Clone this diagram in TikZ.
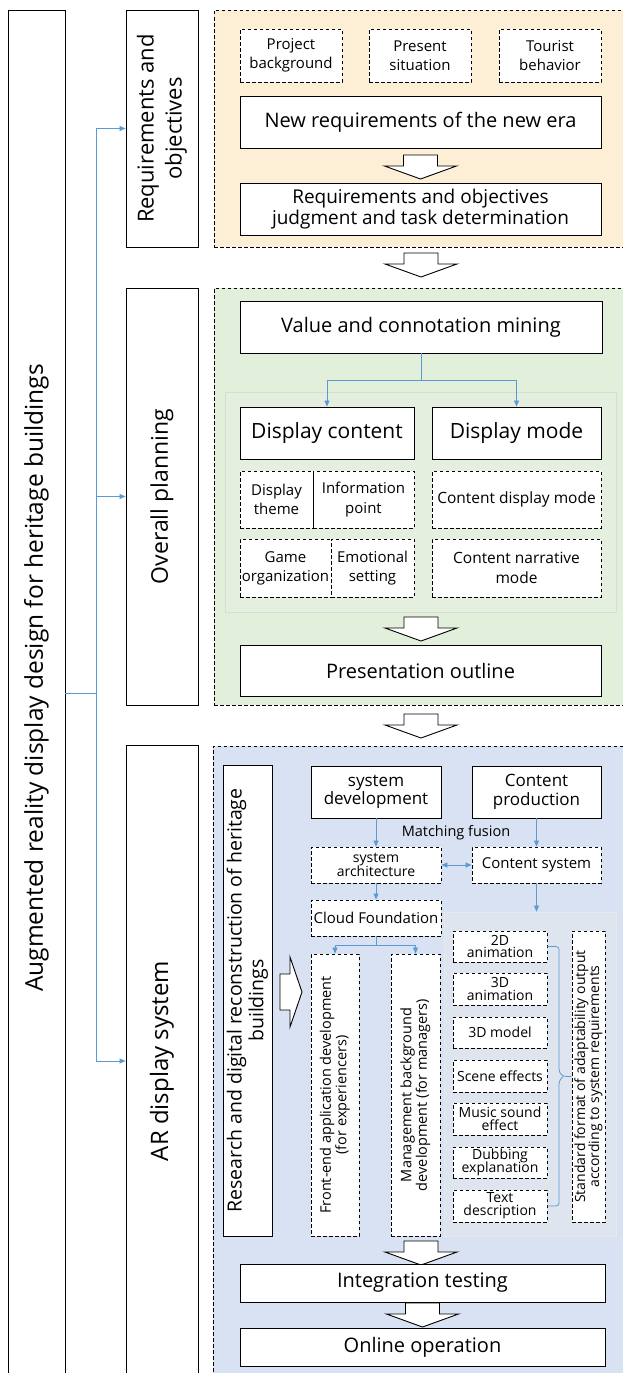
\documentclass[tikz,border=0pt]{standalone}
\usepackage{fontspec}
\setmainfont{Open Sans}
\usepackage{graphicx}
\usetikzlibrary{arrows.meta}
\definecolor{orangebg}{HTML}{FCEFD6}
\definecolor{greenbg}{HTML}{E2EFDA}
\definecolor{greenpanel}{HTML}{E5EFDF}
\definecolor{greenpanelline}{HTML}{D3E0CB}
\definecolor{bluebg}{HTML}{D9E2F2}
\definecolor{graypanel}{HTML}{DFE5EE}
\definecolor{graypanelline}{HTML}{E6E9ED}
\definecolor{conn}{HTML}{5B9BD5}
\newcommand{\fs}[1]{\fontsize{#1}{1.28\dimexpr #1pt\relax}\selectfont}
\newcommand{\vtext}[1]{\rotatebox{90}{\begin{tabular}{@{}c@{}}#1\end{tabular}}}
\tikzset{
  x=1pt, y=-1pt,
  sbox/.style={draw=black, line width=0.9pt, fill=white, inner sep=0pt, align=center},
  dbox/.style={draw=black, line width=0.9pt, dash pattern=on 3.5pt off 2.5pt, fill=white, inner sep=0pt, align=center},
  region/.style={draw=black, line width=0.8pt, dash pattern=on 3.5pt off 2.5pt},
  link/.style={draw=conn, line width=0.8pt},
  linkarrow/.style={draw=conn, line width=0.8pt, -{Triangle[length=6pt,width=5pt]}},
  hollowdown/.pic={\draw[fill=white, line width=0.9pt] (-17,0) -- (17,0) -- (17,11) -- (36,11) -- (0,24) -- (-36,11) -- (-17,11) -- cycle;},
  hollowright/.pic={\draw[fill=white, line width=0.9pt] (0,-18) -- (10,-18) -- (10,-35) -- (22,0) -- (10,35) -- (10,18) -- (0,18) -- cycle;},
}
\begin{document}
\begin{tikzpicture}
\useasboundingbox (0,0) rectangle (622,1373);
% background regions
\node[region, fill=orangebg, minimum width=427, minimum height=237, inner sep=0pt] (regA) at (427.5,128.5) {};
\node[region, fill=greenbg, minimum width=427, minimum height=417, inner sep=0pt] (regB) at (427.5,496.5) {};
\node[region, fill=bluebg, minimum width=427, minimum height=660, inner sep=0pt] (regC) at (426.5,1076) {};
\node[draw=greenpanelline, fill=greenpanel, line width=0.8pt, minimum width=391, minimum height=220, inner sep=0pt] (gpanel) at (420.5,502) {};
\node[draw=graypanelline, fill=graypanel, line width=0.8pt, minimum width=172, minimum height=324, inner sep=0pt] (graypan) at (530,1074) {};

% left column
\node[draw=black, line width=0.9pt, minimum width=57, minimum height=1400, inner sep=0pt] (mainbox) at (36.5,710) {};
\node[rotate=90, font=\fs{24.5}] (maintitle) at (36.5,678) {Augmented reality display design for heritage buildings};
\node[sbox, minimum width=72, minimum height=237, font=\fs{22}] (req) at (162,128.5) {\vtext{Requirements and\\objectives}};
\node[sbox, minimum width=72, minimum height=417, font=\fs{23}] (op) at (162,496.5) {\vtext{Overall planning}};
\node[sbox, minimum width=72, minimum height=632, font=\fs{24}] (ar) at (162,1061) {\vtext{AR display system}};
\coordinate (hub) at (96,693);
\coordinate (trunkA) at (96,128.5);
\coordinate (trunkC) at (96,1061);
\draw[link] (mainbox.east |- hub) -- (hub);
\draw[link] (trunkA) -- (trunkC);
\draw[linkarrow] (trunkA) -- (req.west);
\draw[linkarrow] (hub |- op.west) -- (op.west);
\draw[linkarrow] (trunkC) -- (ar.west);

% section A
\node[dbox, minimum width=102, minimum height=53, font=\fs{15}] (pb) at (291,55.5) {Project\\background};
\node[dbox, minimum width=102, minimum height=53, font=\fs{15}] (ps) at (420,55.5) {Present\\situation};
\node[dbox, minimum width=102, minimum height=53, font=\fs{15}] (tb) at (550,55.5) {Tourist\\behavior};
\node[sbox, minimum width=361, minimum height=52, font=\fs{20}] (newreq) at (420.5,122) {New requirements of the new era};
\pic at (420.5,155) {hollowdown};
\node[sbox, minimum width=361, minimum height=52, font=\fs{19}] (judg) at (420.5,209) {Requirements and objectives\\[-3pt]judgment and task determination};
\pic at (421,253) {hollowdown};

% section B
\node[sbox, minimum width=362, minimum height=52, font=\fs{20}] (vm) at (421,327) {Value and connotation mining};
\node[sbox, minimum width=174, minimum height=52, font=\fs{21}] (dc) at (327,433) {Display content};
\node[sbox, minimum width=169, minimum height=52, font=\fs{21}] (dm) at (516.5,433) {Display mode};
\coordinate (split) at (421,380);
\draw[link] (vm.south) -- (split);
\draw[linkarrow] (split) -| (dc.north);
\draw[linkarrow] (split) -| (dm.north);
\node[dbox, minimum width=73, minimum height=57, font=\fs{15}] (theme) at (276.5,499.5) {Display\\theme};
\node[dbox, minimum width=101, minimum height=57, font=\fs{15}] (info) at (363.5,499.5) {Information\\point};
\draw[line width=0.9pt] (theme.north east) -- (theme.south east);
\node[dbox, minimum width=169, minimum height=57, font=\fs{15.5}] (cdm) at (516.5,499.5) {Content display mode};
\node[dbox, minimum width=91, minimum height=58, font=\fs{15}] (game) at (285.5,568) {Game\\organization};
\node[dbox, minimum width=83, minimum height=58, font=\fs{15}] (emo) at (372.5,568) {Emotional\\setting};
\node[dbox, minimum width=169, minimum height=58, font=\fs{15.5}] (cnm) at (516.5,568) {Content narrative\\mode};
\pic at (421,617) {hollowdown};
\node[sbox, minimum width=361, minimum height=51, font=\fs{20}] (po) at (420.5,670.5) {Presentation outline};
\pic at (421,714) {hollowdown};

% section C
\node[sbox, minimum width=49, minimum height=471, font=\fs{19.5}] (research) at (247.5,1000.5) {\vtext{Research and digital reconstruction of heritage\\[-3pt]buildings}};
\pic at (280,992) {hollowright};
\node[sbox, minimum width=130, minimum height=52, font=\fs{17}] (sd) at (376,792) {system\\[-3pt]development};
\node[sbox, minimum width=129, minimum height=52, font=\fs{17}] (cp) at (536.5,792) {Content\\[-3pt]production};
\node[font=\fs{14.5}] (mf) at (456,833) {Matching fusion};
\node[dbox, minimum width=130, minimum height=36, font=\fs{14}] (sa) at (376,865) {system\\[-4pt]architecture};
\node[dbox, minimum width=129, minimum height=36, font=\fs{15}] (cs) at (536.5,865) {Content system};
\node[dbox, minimum width=130, minimum height=36, font=\fs{15}] (cf) at (376,918) {Cloud Foundation};
\draw[linkarrow] (sd.south) -- (sa.north);
\draw[linkarrow] (cp.south) -- (cs.north);
\draw[link, {Triangle[length=6pt,width=5pt]}-{Triangle[length=6pt,width=5pt]}] (sa.east) -- (cs.west);
\draw[linkarrow] (sa.south) -- (cf.north);
\draw[linkarrow] (cs.south) -- (cs.south |- graypan.north);
\node[dbox, minimum width=48, minimum height=282, font=\fs{14.5}] (fe) at (335,1095) {\vtext{Front-end application development\\[-3pt](for experiencers)}};
\node[dbox, minimum width=49, minimum height=282, font=\fs{14.5}] (mb) at (415.5,1095) {\vtext{Management background\\[-3pt]development (for managers)}};
\coordinate (cfsplit) at (376,945);
\draw[link] (cf.south) -- (cfsplit);
\draw[linkarrow] (cfsplit) -| (fe.north);
\draw[linkarrow] (cfsplit) -| (mb.north);
\node[dbox, minimum width=94, minimum height=31, font=\fs{14}] (a2d) at (500,946.5) {2D\\[-5pt]animation};
\node[dbox, minimum width=94, minimum height=32, font=\fs{14}] (a3d) at (500,989) {3D\\[-5pt]animation};
\node[dbox, minimum width=94, minimum height=31, font=\fs{14}] (m3d) at (500,1032.5) {3D model};
\node[dbox, minimum width=94, minimum height=32, font=\fs{14}] (scene) at (500,1076) {Scene effects};
\node[dbox, minimum width=94, minimum height=32, font=\fs{14}] (music) at (500,1119) {Music sound\\[-5pt]effect};
\node[dbox, minimum width=94, minimum height=31, font=\fs{14}] (dub) at (500,1162.5) {Dubbing\\[-5pt]explanation};
\node[dbox, minimum width=94, minimum height=32, font=\fs{14}] (txt) at (500,1206) {Text\\[-5pt]description};
\node[dbox, minimum width=33, minimum height=291, font=\fs{14}] (std) at (588.5,1076.5) {\vtext{Standard format of adaptability output\\[-4pt]according to system requirements}};
\draw[link, rounded corners=3pt] (a2d.east) -- (559,946.5) -- (559,1072) -- (563,1076.5) -- (std.west);
\draw[link, rounded corners=3pt] (txt.east) -- (559,1206) -- (559,1081) -- (563,1076.5);
\pic at (421,1241) {hollowdown};
\node[sbox, minimum width=365, minimum height=38, font=\fs{20}] (it) at (422.5,1283) {Integration testing};
\pic at (422.5,1303) {hollowdown};
\node[sbox, minimum width=365, minimum height=38, font=\fs{20}] (oo) at (422.5,1347) {Online operation};
\end{tikzpicture}
\end{document}
